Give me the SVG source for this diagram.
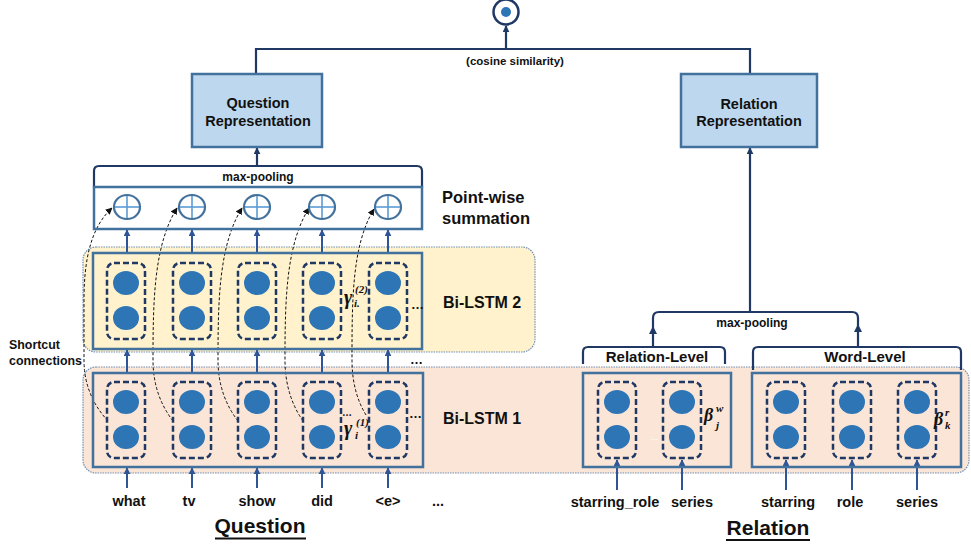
<svg xmlns="http://www.w3.org/2000/svg" width="971" height="544" viewBox="0 0 971 544">
<defs>
<style>
.t{font-family:"Liberation Sans",Arial,sans-serif;font-weight:bold;fill:#111}
.m{font-family:"Liberation Serif","DejaVu Serif",serif;font-weight:bold;font-style:italic;fill:#111}
.rep{fill:#BDD7EE;stroke:#41719C;stroke-width:2.5}
.inner{fill:none;stroke:#41719C;stroke-width:2.5}
.dbox{fill:none;stroke:#1F3864;stroke-width:2.5;stroke-dasharray:6 3}
.dot{fill:#2E75B6}
.region{stroke:#6F8FB5;stroke-width:1.2;stroke-dasharray:1.5 1}
.conn{fill:none;stroke:#203864;stroke-width:2.2}
.col{fill:none;stroke:#2F5597;stroke-width:2}
.sc{fill:none;stroke:#111;stroke-width:1;stroke-dasharray:3 2}
.plus{fill:#fff;stroke:#41719C;stroke-width:2.2}
.pl{stroke:#5B9BD5;stroke-width:1.6}
</style>
<marker id="an" viewBox="0 0 10 10" refX="9" refY="5" markerWidth="7" markerHeight="7" markerUnits="userSpaceOnUse" orient="auto"><path d="M0,0 L10,5 L0,10 z" fill="#203864"/></marker>
<marker id="ab" viewBox="0 0 10 10" refX="9" refY="5" markerWidth="7" markerHeight="7" markerUnits="userSpaceOnUse" orient="auto"><path d="M0,0 L10,5 L0,10 z" fill="#2F5597"/></marker>
<marker id="ak" viewBox="0 0 10 10" refX="9" refY="5" markerWidth="7" markerHeight="7" markerUnits="userSpaceOnUse" orient="auto"><path d="M0,0 L10,5 L0,10 z" fill="#111"/></marker>
<g id="cell">
<rect class="dbox" x="-19" y="0" width="38" height="76" rx="7"/>
<ellipse class="dot" cx="0" cy="20" rx="13" ry="12"/>
<ellipse class="dot" cx="0" cy="55" rx="13" ry="12"/>
</g>
<g id="plusc">
<ellipse class="plus" cx="0" cy="0" rx="13" ry="12"/>
<line class="pl" x1="-12" y1="0" x2="12" y2="0"/>
<line class="pl" x1="0" y1="-11" x2="0" y2="11"/>
</g>
</defs>

<rect width="971" height="544" fill="#fff"/>

<g id="region-bilstm2">
<rect class="region" x="83" y="247" width="452" height="105" rx="13" fill="#FFF2CC"/>
</g>
<g id="region-bilstm1">
<rect class="region" x="83" y="367" width="886" height="106" rx="13" fill="#FBE5D6"/>
</g>

<g id="connectors">
<path class="conn" d="M256,74 V49 H750 V74"/>
<line class="conn" x1="506" y1="49" x2="506" y2="26" marker-end="url(#an)"/>
<line class="conn" x1="257" y1="166" x2="257" y2="148" marker-end="url(#an)"/>
<line class="conn" x1="750" y1="312" x2="750" y2="148" marker-end="url(#an)"/>
<path class="conn" d="M653,347 V318 Q653,312 659,312 H852 Q858,312 858,318 V347"/>
<polygon points="649,334 657,334 653,326" fill="#203864"/>
<polygon points="854,332 862,332 858,324" fill="#203864"/>
<g class="col">
<line x1="127" y1="253" x2="127" y2="230" marker-end="url(#ab)"/>
<line x1="192" y1="253" x2="192" y2="230" marker-end="url(#ab)"/>
<line x1="257" y1="253" x2="257" y2="230" marker-end="url(#ab)"/>
<line x1="322" y1="253" x2="322" y2="230" marker-end="url(#ab)"/>
<line x1="388" y1="253" x2="388" y2="230" marker-end="url(#ab)"/>
<line x1="127" y1="373" x2="127" y2="350" marker-end="url(#ab)"/>
<line x1="192" y1="373" x2="192" y2="350" marker-end="url(#ab)"/>
<line x1="257" y1="373" x2="257" y2="350" marker-end="url(#ab)"/>
<line x1="322" y1="373" x2="322" y2="350" marker-end="url(#ab)"/>
<line x1="388" y1="373" x2="388" y2="350" marker-end="url(#ab)"/>
<line x1="127" y1="488" x2="127" y2="468" marker-end="url(#ab)"/>
<line x1="192" y1="488" x2="192" y2="468" marker-end="url(#ab)"/>
<line x1="257" y1="488" x2="257" y2="468" marker-end="url(#ab)"/>
<line x1="322" y1="488" x2="322" y2="468" marker-end="url(#ab)"/>
<line x1="388" y1="488" x2="388" y2="468" marker-end="url(#ab)"/>
<line x1="617" y1="490" x2="617" y2="460" marker-end="url(#ab)"/>
<line x1="682" y1="490" x2="682" y2="460" marker-end="url(#ab)"/>
<line x1="786" y1="490" x2="786" y2="460" marker-end="url(#ab)"/>
<line x1="852" y1="490" x2="852" y2="460" marker-end="url(#ab)"/>
<line x1="917" y1="490" x2="917" y2="460" marker-end="url(#ab)"/>
</g>
<path class="sc" d="M108,421 Q84,395 84,360 L84,300 C84,262 90,228 112,208" marker-end="url(#ak)"/>
<path class="sc" d="M173,421 Q153,395 153,360 C153,300 154,245 177,208" marker-end="url(#ak)"/>
<path class="sc" d="M238,421 Q218,395 218,360 C218,300 219,245 242,208" marker-end="url(#ak)"/>
<path class="sc" d="M303,421 Q285,395 285,360 C285,300 286,245 309,208" marker-end="url(#ak)"/>
<path class="sc" d="M366,415 Q352,392 352,360 C352,300 352,245 374,209" marker-end="url(#ak)"/>
</g>

<g id="cosine">
<circle cx="506" cy="12" r="12.5" fill="#fff" stroke="#1F3864" stroke-width="2.5"/>
<circle cx="506" cy="12" r="5" class="dot"/>
<text class="t" x="515" y="65" font-size="11.5" text-anchor="middle">(cosine similarity)</text>
</g>

<g id="question-rep">
<rect class="rep" x="192" y="74" width="130" height="73"/>
<text class="t" x="258" y="108" font-size="14.5" text-anchor="middle">Question</text>
<text class="t" x="258" y="126" font-size="14.5" text-anchor="middle">Representation</text>
</g>

<g id="relation-rep">
<rect class="rep" x="681" y="74" width="136" height="73"/>
<text class="t" x="749" y="109" font-size="14.5" text-anchor="middle">Relation</text>
<text class="t" x="749" y="126" font-size="14.5" text-anchor="middle">Representation</text>
</g>

<g id="q-maxpool">
<path d="M94,188 V171 Q94,166 99,166 H417 Q422,166 422,171 V188" fill="#fff" stroke="#1F3864" stroke-width="2.2"/>
<text class="t" x="258" y="181" font-size="12" text-anchor="middle">max-pooling</text>
</g>

<g id="pointwise-sum">
<rect class="inner" x="94" y="187" width="328" height="42" fill="#fff"/>
<use href="#plusc" x="127" y="207"/>
<use href="#plusc" x="192" y="207"/>
<use href="#plusc" x="257" y="207"/>
<use href="#plusc" x="322" y="207"/>
<use href="#plusc" x="388" y="207"/>
<text class="t" x="442" y="203" font-size="16.5">Point-wise</text>
<text class="t" x="442" y="224" font-size="16.5">summation</text>
</g>

<g id="bilstm2">
<rect class="inner" x="93" y="253" width="329" height="96"/>
<use href="#cell" x="126" y="263"/>
<use href="#cell" x="192" y="263"/>
<use href="#cell" x="257" y="263"/>
<use href="#cell" x="322" y="263"/>
<use href="#cell" x="388" y="263"/>
<text class="m" x="344" y="304" font-size="20">γ</text>
<text class="m" x="355" y="293" font-size="11">(2)</text>
<text class="m" x="354" y="307" font-size="11">i.</text>
<text class="t" x="411" y="309" font-size="13">…</text>
<text class="t" x="443" y="308" font-size="16">Bi-LSTM 2</text>
</g>

<text class="t" x="410" y="364" font-size="13">…</text>

<g id="shortcut-label">
<text class="t" x="9" y="349" font-size="12.4">Shortcut</text>
<text class="t" x="9" y="365" font-size="12.4">connections</text>
</g>

<g id="bilstm1">
<rect class="inner" x="93" y="373" width="330" height="94"/>
<use href="#cell" x="126" y="382"/>
<use href="#cell" x="192" y="382"/>
<use href="#cell" x="257" y="382"/>
<use href="#cell" x="322" y="382"/>
<use href="#cell" x="388" y="382"/>
<text class="t" x="342" y="416" font-size="10">…</text>
<text class="m" x="344" y="435" font-size="20">γ</text>
<text class="m" x="356" y="426" font-size="11">(1)</text>
<text class="m" x="355" y="439" font-size="11">i</text>
<text class="t" x="409" y="418" font-size="13">…</text>
<text class="t" x="443" y="424" font-size="16">Bi-LSTM 1</text>
</g>

<g id="question-words">
<text class="t" x="129" y="506" font-size="14.5" text-anchor="middle">what</text>
<text class="t" x="189" y="506" font-size="14.5" text-anchor="middle">tv</text>
<text class="t" x="257" y="506" font-size="14.5" text-anchor="middle">show</text>
<text class="t" x="322" y="506" font-size="14.5" text-anchor="middle">did</text>
<text class="t" x="388" y="506" font-size="14.5" text-anchor="middle">&lt;e&gt;</text>
<text class="t" x="438" y="506" font-size="14.5" text-anchor="middle">...</text>
</g>

<g id="question-title">
<text class="t" x="260" y="533" font-size="21" text-anchor="middle">Question</text>
<line x1="215" y1="538.5" x2="306" y2="538.5" stroke="#111" stroke-width="2"/>
</g>

<g id="relation-level">
<path class="conn" d="M583,364 V352 Q583,347 588,347 H720 Q725,347 725,352 V364"/>
<text class="t" x="657" y="362" font-size="15" text-anchor="middle">Relation-Level</text>
<rect class="inner" x="583" y="373" width="148" height="94"/>
<use href="#cell" x="617" y="382"/>
<use href="#cell" x="682" y="382"/>
<text x="651" y="440" font-family="Liberation Sans,sans-serif" font-size="9" fill="#fff">...</text>
<text class="m" x="704" y="421" font-size="18">β</text>
<text class="m" x="716" y="412" font-size="11">w</text>
<text class="m" x="716" y="429" font-size="11">j</text>
</g>

<g id="word-level">
<path class="conn" d="M753,370 V352 Q753,347 758,347 H956 Q961,347 961,352 V370"/>
<text class="t" x="865" y="362" font-size="15" text-anchor="middle">Word-Level</text>
<rect class="inner" x="752" y="373" width="209" height="94"/>
<use href="#cell" x="786" y="382"/>
<use href="#cell" x="852" y="382"/>
<use href="#cell" x="917" y="382"/>
<text class="m" x="934" y="425" font-size="18">β</text>
<text class="m" x="945" y="416" font-size="11">r</text>
<text class="m" x="945" y="429" font-size="11">k</text>
</g>

<g id="relation-words">
<text class="t" x="615" y="507" font-size="14.5" text-anchor="middle">starring_role</text>
<text class="t" x="692" y="507" font-size="14.5" text-anchor="middle">series</text>
<text class="t" x="788" y="507" font-size="14.5" text-anchor="middle">starring</text>
<text class="t" x="850" y="507" font-size="14.5" text-anchor="middle">role</text>
<text class="t" x="917" y="507" font-size="14.5" text-anchor="middle">series</text>
</g>

<text class="t" x="752" y="327" font-size="12" text-anchor="middle">max-pooling</text>

<g id="relation-title">
<text class="t" x="768" y="535" font-size="21" text-anchor="middle">Relation</text>
<line x1="726" y1="540" x2="810" y2="540" stroke="#111" stroke-width="2"/>
</g>
</svg>
